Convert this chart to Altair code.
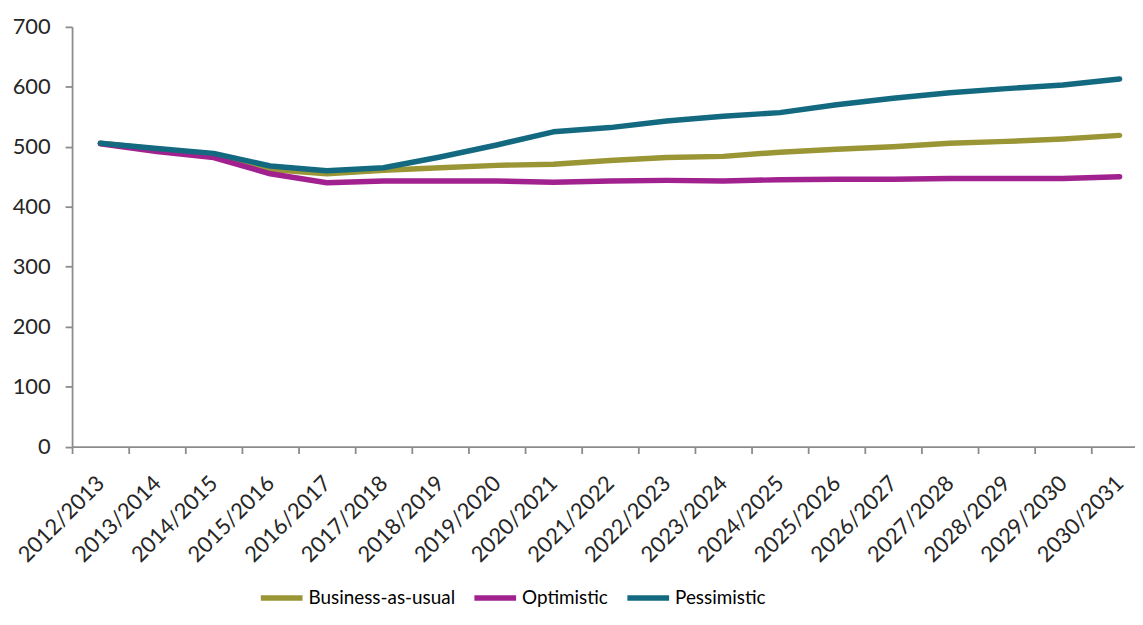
import altair as alt
import pandas as pd

years = ["2012/2013", "2013/2014", "2014/2015", "2015/2016", "2016/2017", "2017/2018",
         "2018/2019", "2019/2020", "2020/2021", "2021/2022", "2022/2023", "2023/2024",
         "2024/2025", "2025/2026", "2026/2027", "2027/2028", "2028/2029", "2029/2030",
         "2030/2031"]
bau = [506, 496, 487, 462, 455, 461, 465, 469, 471, 477, 482, 484, 491, 496, 500, 506, 509, 513, 519]
optimistic = [505, 492, 482, 455, 440, 443, 443, 443, 441, 443, 444, 443, 445, 446, 446, 447, 447, 447, 450]
pessimistic = [506, 497, 489, 468, 460, 465, 483, 503, 525, 532, 543, 551, 557, 570, 581, 590, 597, 603, 613]

series_names = ["Business-as-usual", "Optimistic", "Pessimistic"]
series_colors = ["#9A9535", "#A1228F", "#136A80"]

rows = []
for name, vals in zip(series_names, [bau, optimistic, pessimistic]):
    for i, (yr, v) in enumerate(zip(years, vals)):
        rows.append({"year": yr, "value": v, "series": name, "order": i})
df = pd.DataFrame(rows)

FONT = "Lato"

chart = alt.Chart(df).mark_line(strokeWidth=5.5, strokeCap="round", strokeJoin="round").encode(
    x=alt.X("year:N", sort=years, title=None,
            scale=alt.Scale(paddingInner=0, paddingOuter=0, range=[0, 1083]),
            axis=alt.Axis(labelAngle=-45, labelAlign="right", labelBaseline="middle",
                          labelPadding=26, tickBand="extent", tickSize=7, grid=False)),
    y=alt.Y("value:Q", title=None,
            scale=alt.Scale(domain=[0, 700], nice=False),
            axis=alt.Axis(values=[0, 100, 200, 300, 400, 500, 600, 700], tickSize=7,
                          labelPadding=15, grid=False)),
    color=alt.Color("series:N", sort=series_names,
                    scale=alt.Scale(domain=series_names, range=series_colors),
                    legend=alt.Legend(title=None, orient="none", direction="horizontal",
                                      legendX=187, legendY=551, symbolType="stroke",
                                      symbolSize=1764, symbolStrokeWidth=5.5,
                                      labelFontSize=19, labelFont=FONT, labelColor="#000000",
                                      labelLimit=0, labelOffset=3, columnPadding=8, padding=0)),
    order="order:Q",
).properties(
    width=1070, height=422.5,
    autosize=alt.AutoSizeParams(type="none"),
    padding={"left": 64.5, "top": 17, "right": 0, "bottom": 160},
).configure_view(stroke=None).configure_axis(
    labelFont=FONT, labelFontSize=22, labelColor="#262626",
    domainColor="#8C8C8C", tickColor="#8C8C8C", domainWidth=1.8, tickWidth=1.8,
)

chart.save("out.html", embed_options={"renderer": "svg", "actions": False})
